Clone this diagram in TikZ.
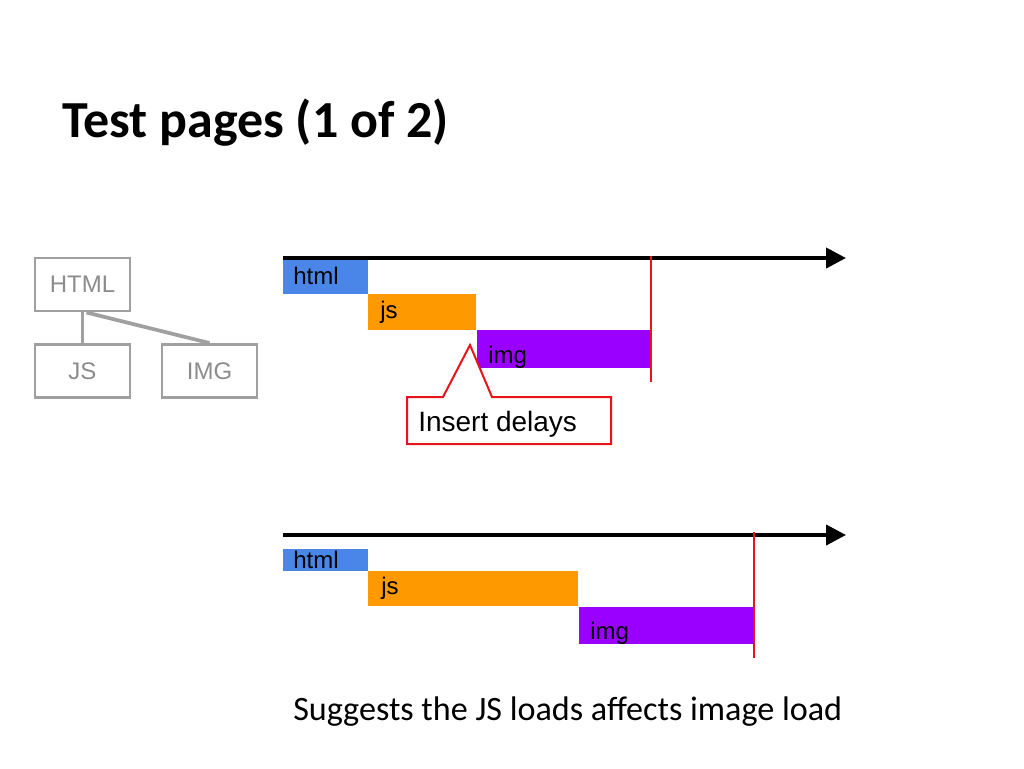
\documentclass[tikz,border=0pt]{standalone}
\usepackage{fontspec}
\setmainfont{Liberation Sans}
\newfontfamily\calibri{Carlito}
\usetikzlibrary{arrows.meta}
\definecolor{barblue}{HTML}{4A86E8}
\definecolor{barorange}{HTML}{FF9900}
\definecolor{barpurple}{HTML}{9900FF}
\definecolor{treegray}{HTML}{A0A0A0}
\definecolor{treetext}{HTML}{8C8C8C}
\definecolor{mark}{HTML}{E8141A}
\tikzset{
  treebox/.style={draw=treegray, line width=2.2pt, minimum width=71.25pt, minimum height=39.75pt, inner sep=0pt, text=treetext, font=\fontsize{18}{20}\selectfont},
  treeline/.style={draw=treegray, line width=2.8pt},
  bar/.style={draw=none, inner sep=0pt},
  lbl/.style={anchor=west, inner sep=0pt, font=\fontsize{18}{20}\selectfont},
  axis/.style={line width=3pt, -{Triangle[length=15pt, width=15pt]}},
  endline/.style={draw=mark, line width=1.5pt},
}
\begin{document}
\begin{tikzpicture}[x=0.75pt, y=-0.75pt]
\useasboundingbox (0,0) rectangle (1024,768);
% title
\node[anchor=base west, inner sep=0pt, font=\calibri\bfseries\fontsize{39}{41}\selectfont] (title) at (62,137) {Test pages (1 of 2)};
% tree
\node[treebox] (html) at (82.5,284.5) {HTML};
\node[treebox] (js) at (82.5,371) {JS};
\node[treebox] (img) at (209.5,371) {IMG};
\draw[treeline] (html.south) -- (js.north);
\draw[treeline] ([xshift=3pt]html.south) -- (img.north);
% top timeline
\coordinate (a0) at (283,258);
\coordinate (a1) at (846,258);
\fill[barblue] (283,258) rectangle (368,294);
\fill[barorange] (368,294) rectangle (476,330);
\fill[barpurple] (477,330) rectangle (651,368);
\draw[axis] (a0) -- (a1);
\coordinate (r0) at (651,256);
\coordinate (r1) at (651,382);
\draw[endline] (r0) -- (r1);
\node[lbl] (l1) at (293,276) {html};
\node[lbl] (l2) at (380,312) {js};
\node[lbl] (l3) at (488,357) {img};
% callout
\coordinate (tip) at (470,345);
\draw[draw=mark, line width=1.5pt, fill=white] (407,397) -- (443,397) -- (tip) -- (492,397) -- (611,397) -- (611,444) -- (407,444) -- cycle;
\node[lbl, font=\fontsize{21}{24}\selectfont] (ins) at (418,424) {Insert delays};
% bottom timeline
\coordinate (b0) at (283,535);
\coordinate (b1) at (846,535);
\fill[barblue] (283,549) rectangle (368,571);
\fill[barorange] (368,571) rectangle (578,606);
\fill[barpurple] (579,607) rectangle (753,644);
\draw[axis] (b0) -- (b1);
\coordinate (s0) at (754,532);
\coordinate (s1) at (754,658);
\draw[endline] (s0) -- (s1);
\node[lbl] (m1) at (293,560) {html};
\node[lbl] (m2) at (381,588) {js};
\node[lbl] (m3) at (590,633) {img};
% caption
\node[anchor=base west, inner sep=0pt, font=\calibri\fontsize{25.6}{28}\selectfont] (cap) at (293,720) {Suggests the JS loads affects image load};
\end{tikzpicture}
\end{document}
